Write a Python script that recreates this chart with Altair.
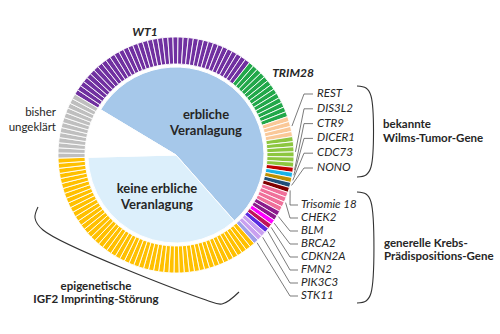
import math
import altair as alt
import pandas as pd

# ---------------- data ----------------
genes = ["WT1", "TRIM28", "REST", "DIS3L2", "CTR9", "DICER1", "CDC73", "NONO",
         "Trisomie 18", "CHEK2", "BLM", "BRCA2", "CDKN2A", "FMN2", "PIK3C3", "STK11",
         "IGF2", "ungeklärt"]
counts = [39, 13, 4, 6, 1, 1, 1, 1, 1, 4, 2, 1, 1, 1, 2, 1, 52, 13]
gene_group = ["erbliche"] * 16 + ["keine", "unklar"]

pie_groups = ["erbliche", "keine", "unklar"]

upper_labels = ["REST", "DIS3L2", "CTR9", "DICER1", "CDC73", "NONO"]
lower_labels = ["Trisomie 18", "CHEK2", "BLM", "BRCA2", "CDKN2A", "FMN2", "PIK3C3", "STK11"]

# ---------------- styles / layout ----------------
gene_colors = ["#7030a0", "#22a84a", "#fac898", "#8dc63f", "#c00000", "#1ab2e6", "#bf9000",
               "#1f4e79", "#7f0000", "#f0709a", "#8b1a8b", "#ff00ff", "#c0145a", "#5b2be0",
               "#c9a0f0", "#9e9ee8", "#ffc000", "#bfbfbf"]
pie_colors = ["#a6c8ea", "#dceffb", "#ffffff"]

W, H = 500, 334
CX, CY = 176, 155
R_PIE, R_IN, R_OUT = 88, 91, 118
START_DEG = 301
FONT = "Lato"
TXT = "#262626"

N = sum(counts)
th0 = math.radians(START_DEG)
theta_scale = alt.Scale(domain=[0, N], range=[th0, th0 + 2 * math.pi])

# ring table (one row per case)
ring_rows = []
i = 0
starts = {}
for g, c in zip(genes, counts):
    starts[g] = i
    for _ in range(c):
        ring_rows.append({"gene": g, "t0": i, "t1": i + 1})
        i += 1
ring_df = pd.DataFrame(ring_rows)

# pie table
pie_rows = []
acc = 0
for pg in pie_groups:
    n = sum(c for c, gg in zip(counts, gene_group) if gg == pg)
    pie_rows.append({"grp": pg, "t0": acc, "t1": acc + n})
    acc += n
pie_df = pd.DataFrame(pie_rows)

xs = alt.Scale(domain=[0, W], nice=False, zero=False)
ys = alt.Scale(domain=[0, H], nice=False, zero=False, reverse=True)

pie = alt.Chart(pie_df).mark_arc(outerRadius=R_PIE, stroke="white", strokeWidth=1).encode(
    theta=alt.Theta("t0:Q", scale=theta_scale),
    theta2="t1:Q",
    color=alt.Color("grp:N", scale=alt.Scale(domain=pie_groups, range=pie_colors), legend=None),
    x=alt.value(CX), y=alt.value(CY),
)

ring = alt.Chart(ring_df).mark_arc(innerRadius=R_IN, outerRadius=R_OUT, stroke="white",
                                   strokeWidth=0.9).encode(
    theta=alt.Theta("t0:Q", scale=theta_scale),
    theta2="t1:Q",
    fill=alt.Fill("gene:N", scale=alt.Scale(domain=genes, range=gene_colors), legend=None),
    x=alt.value(CX), y=alt.value(CY),
)

# leader lines and gene labels
upper_y = [94 + 14.8 * k for k in range(len(upper_labels))]
lower_y = [205 + 13 * k for k in range(len(lower_labels))]
line_rows = []
lab_rows = []


def add_lines(labels, ly_list, elbow_x, stub_x, text_x):
    for g, ly in zip(labels, ly_list):
        idx = genes.index(g)
        mid = starts[g] + counts[idx] / 2
        a = th0 + 2 * math.pi * mid / N
        r = R_OUT + 1.5
        px, py = CX + r * math.sin(a), CY - r * math.cos(a)
        for k, (x, y) in enumerate([(px, py), (elbow_x, ly), (stub_x, ly)]):
            line_rows.append({"gene": g, "k": k, "x": x, "y": y})
        lab_rows.append({"t": g, "x": text_x, "y": ly})


add_lines(upper_labels, upper_y, 304, 313, 317)
add_lines(lower_labels, lower_y, 290, 298, 301)

lines = alt.Chart(pd.DataFrame(line_rows)).mark_line(color="#595959", strokeWidth=0.8).encode(
    x=alt.X("x:Q", scale=xs, axis=None),
    y=alt.Y("y:Q", scale=ys, axis=None),
    detail="gene:N",
    order="k:Q",
)

gene_text = alt.Chart(pd.DataFrame(lab_rows)).mark_text(
    font=FONT, fontSize=11.5, fontStyle="italic", align="left", baseline="middle", color=TXT
).encode(x=alt.X("x:Q", scale=xs), y=alt.Y("y:Q", scale=ys), text="t:N")

# braces
brace_rows = []
brace_pts = {
    "b1": [(357, 86), (366, 88), (371, 96), (371, 167), (366, 175), (357, 177)],
    "b2": [(357, 192), (366, 194), (371, 202), (371, 293), (366, 301), (357, 303)],
    "b3": [(38, 207), (35, 218), (43, 230), (206, 300), (222, 304), (239, 292)],
}
for b, pts in brace_pts.items():
    for k, (x, y) in enumerate(pts):
        brace_rows.append({"b": b, "k": k, "x": x, "y": y})
braces = alt.Chart(pd.DataFrame(brace_rows)).mark_line(
    color="#333333", strokeWidth=1.1, interpolate="catmull-rom"
).encode(x=alt.X("x:Q", scale=xs), y=alt.Y("y:Q", scale=ys), detail="b:N", order="k:Q")


def text_layer(rows, **kw):
    return alt.Chart(pd.DataFrame(rows, columns=["t", "x", "y"])).mark_text(
        font=FONT, color=TXT, baseline="middle", **kw
    ).encode(x=alt.X("x:Q", scale=xs), y=alt.Y("y:Q", scale=ys), text="t:N")


big_genes = text_layer([("WT1", 145, 32), ("TRIM28", 293, 73)],
                       fontSize=12, fontWeight="bold", fontStyle="italic", align="center")
center_txt = text_layer([("erbliche", 206, 115), ("Veranlagung", 206, 131),
                         ("keine erbliche", 157, 189), ("Veranlagung", 157, 205)],
                        fontSize=13, fontWeight="bold", align="center")
group_txt = text_layer([("bekannte", 383, 125), ("Wilms-Tumor-Gene", 383, 139),
                        ("generelle Krebs-", 384, 244), ("Prädispositions-Gene", 384, 257)],
                       fontSize=11.5, fontWeight="bold", align="left")
epi_txt = text_layer([("epigenetische", 96, 287), ("IGF2 Imprinting-Störung", 96, 300)],
                     fontSize=11.5, fontWeight="bold", align="center")
unk_txt = text_layer([("bisher", 56, 113), ("ungeklärt", 56, 128)],
                     fontSize=11.5, align="right", color=None) if False else text_layer(
    [("bisher", 56, 113), ("ungeklärt", 56, 128)], fontSize=11.5, align="right")

chart = alt.layer(
    pie, ring, lines, braces, gene_text, big_genes, center_txt, group_txt, epi_txt, unk_txt
).properties(
    width=W, height=H, autosize=alt.AutoSizeParams(type="none"), padding=0, background="white"
).configure_view(strokeWidth=0)

chart.save("out.html", embed_options={"renderer": "svg", "actions": False})
